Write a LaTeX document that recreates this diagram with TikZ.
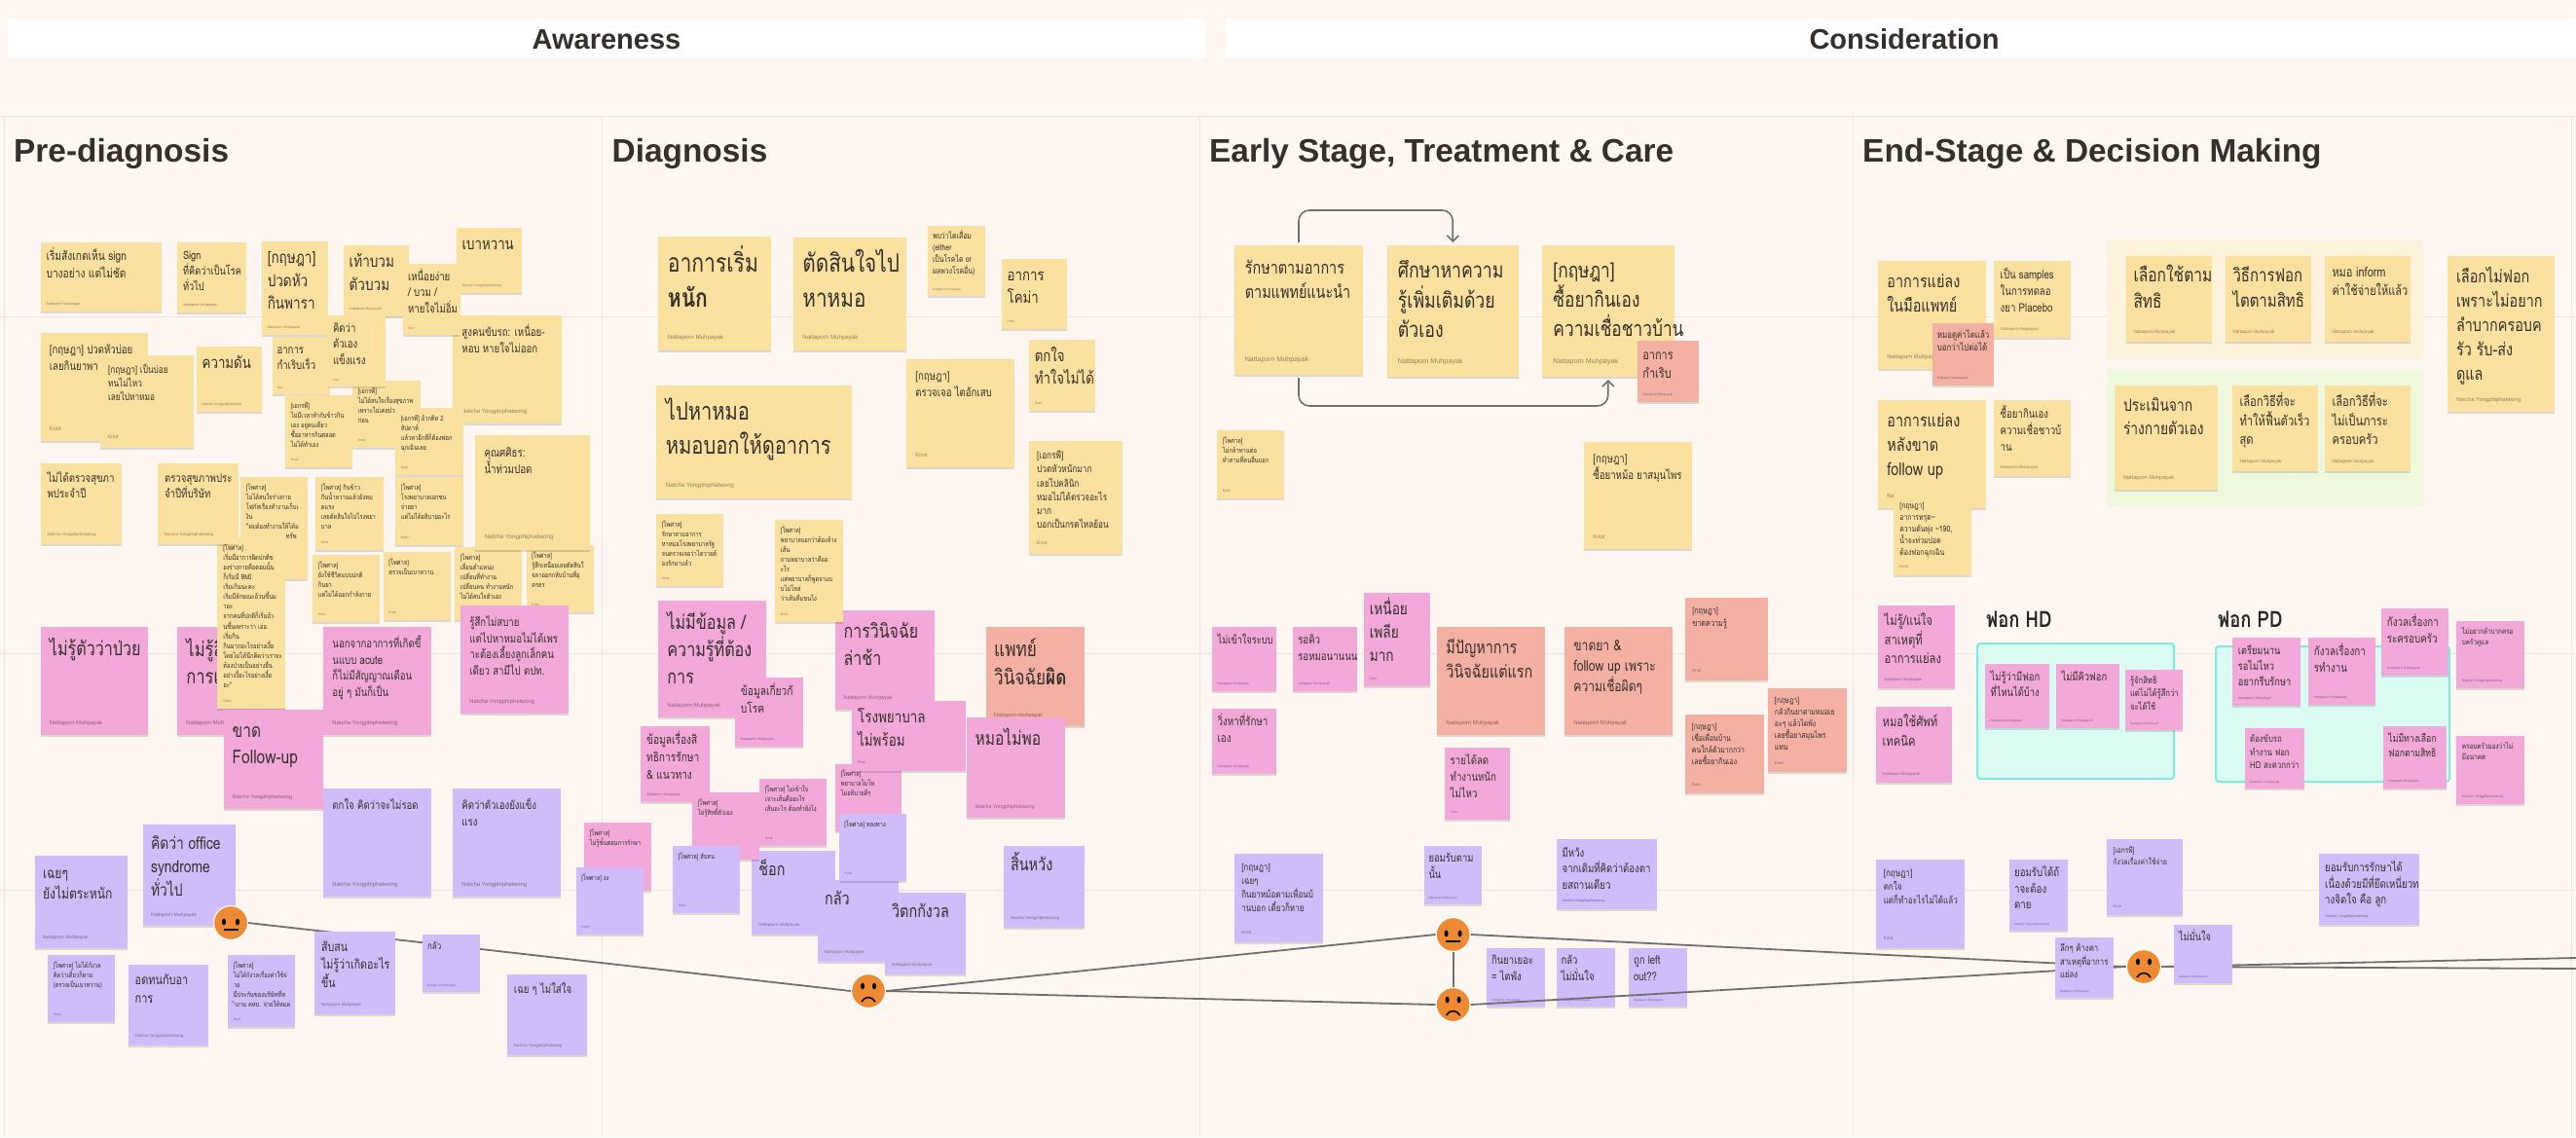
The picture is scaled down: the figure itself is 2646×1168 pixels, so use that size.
\documentclass[tikz,border=0pt]{standalone}
\usepackage{fontspec}
\setmainfont{Loma}[Script=Thai,FakeStretch=0.8]
\newfontfamily\headf{Liberation Sans}
\usetikzlibrary{shadows,arrows.meta}
\definecolor{bgc}{HTML}{FEF7F1}
\definecolor{gridc}{HTML}{E9E5DF}
\definecolor{yel}{HTML}{FAE19F}
\definecolor{pnk}{HTML}{F2A9D9}
\definecolor{pur}{HTML}{CFBCF8}
\definecolor{sal}{HTML}{F3B0A3}
\definecolor{inkc}{HTML}{35302C}
\definecolor{connc}{HTML}{707070}
\definecolor{facec}{HTML}{EE8A33}
\definecolor{tealf}{HTML}{DBFBF2}
\definecolor{teald}{HTML}{7FEBE0}
\definecolor{paley}{HTML}{FDF3DD}
\definecolor{paleg}{HTML}{EEF8DC}
\tikzset{
 note/.style={inner sep=0pt,outer sep=0pt,draw=none,drop shadow={shadow xshift=0pt,shadow yshift=-1.5pt,opacity=.13,fill=black}},
 notetext/.style={inner sep=0pt,outer sep=0pt,anchor=base west,text=inkc},
 noteauth/.style={inner sep=0pt,outer sep=0pt,anchor=base west,text=black,text opacity=.42},
 conn/.style={draw=connc,line width=1.8pt},
 bendarrow/.style={draw=connc,line width=1.6pt,rounded corners=11pt,shorten >=3pt,shorten <=3pt,-{Straight Barb[length=6pt,width=12pt]}},
 facenode/.style={circle,fill=facec,draw=white,line width=1.2pt,minimum size=35pt,inner sep=0pt},
 barnode/.style={fill=white,rounded corners=2pt,inner sep=0pt,anchor=north west},
 bartext/.style={font=\headf\bfseries\fontsize{29pt}{32pt}\selectfont,text=inkc,anchor=base,inner sep=0pt},
 coltitle/.style={font=\headf\bfseries\fontsize{33.4pt}{36pt}\selectfont,text=inkc,anchor=base west,inner sep=0pt},
 subtitle/.style={font=\bfseries\fontsize{23pt}{26pt}\selectfont,text=black!85,anchor=west,inner sep=0pt},
 groupbox/.style={inner sep=0pt,anchor=north west},
 tealbox/.style={fill=tealf,draw=teald,line width=2pt,rounded corners=3pt,inner sep=0pt,anchor=north west},
}
\newcommand{\NM}{Nattaporn Muhpayak}
\newcommand{\NY}{Natcha Yongphiphatwong}
% name x1 y1 x2 y2 colour linespacing text author
\newcommand{\st}[9]{%
 \pgfmathsetmacro{\sw}{#4-#2}\pgfmathsetmacro{\shh}{#5-#3}%
 \pgfmathsetmacro{\smin}{min(\sw,\shh)}%
 \pgfmathsetmacro{\spad}{.085*\smin}%
 \pgfmathsetmacro{\sfs}{.72*#7}%
 \pgfmathsetmacro{\afs}{.053*\smin}%
 \pgfmathsetmacro{\stw}{\sw-2*\spad}%
 \node[note,fill=#6,minimum width=\sw pt,minimum height=\shh pt,anchor=north west] (#1) at (#2,#3) {};
 \node[notetext] (#1-t) at (#2+\spad,#3+\spad+.72*#7) {\fontsize{\sfs pt}{#7 pt}\selectfont\makebox[\stw pt][l]{\parbox[t]{900pt}{\lineskiplimit=-9000pt\raggedright #8}}};
 \node[noteauth] (#1-a) at (#2+\spad,#5-.117*\smin+.35*\afs) {\headf\fontsize{\afs pt}{\afs pt}\selectfont #9};
}
% name x y neutral/sad
\newcommand{\facen}[3]{%
 \node[facenode] (#1) at (#2,#3) {};
 \fill[black] (#2-7,#3-1) ellipse (2pt and 3.4pt);
 \fill[black] (#2+7,#3-1) ellipse (2pt and 3.4pt);
 \draw[black,line width=1.5pt] (#2-7.5,#3+7) -- (#2+7.5,#3+7);
}
\newcommand{\faces}[3]{%
 \node[facenode] (#1) at (#2,#3) {};
 \fill[black] (#2-6,#3-5) ellipse (2pt and 3.4pt);
 \fill[black] (#2+6,#3-5) ellipse (2pt and 3.4pt);
 \draw[black,line width=1.6pt] (#2-7,#3+11) .. controls (#2-4,#3+5) and (#2+4,#3+5) .. (#2+7,#3+11);
}
\begin{document}
\begin{tikzpicture}[x=1pt,y=-1pt]
\useasboundingbox (0,0) rectangle (2646,1168);
\fill[bgc] (0,0) rectangle (2646,1168);
% grid
\foreach \gy in {119,325,671,914}{\draw[gridc,line width=1pt] (0,\gy) -- (2646,\gy);}
\foreach \gx in {4.5,618,1232.5,1903.5,2641}{\draw[gridc,line width=1pt] (\gx,119) -- (\gx,1168);}
% bars and titles
\node[barnode,minimum width=1230pt,minimum height=41pt] (barA) at (8,19) {};
\node[barnode,minimum width=1387pt,minimum height=41pt] (barC) at (1259,19) {};
\node[bartext] (barAt) at (623,50) {Awareness};
\node[bartext] (barCt) at (1956,50) {Consideration};
\node[coltitle] (t1) at (14,166) {Pre-diagnosis};
\node[coltitle] (t2) at (628.5,166) {Diagnosis};
\node[coltitle] (t3) at (1242,166) {Early Stage, Treatment \& Care};
\node[coltitle] (t4) at (1913,166) {End-Stage \& Decision Making};
% group boxes
\node[groupbox,fill=paley,minimum width=325pt,minimum height=123pt] (boxA) at (2164,246) {};
\node[groupbox,fill=paleg,minimum width=325pt,minimum height=142pt] (boxB) at (2164,379) {};
\node[tealbox,minimum width=202pt,minimum height=139pt] (boxHD) at (2030,660) {};
\node[tealbox,minimum width=240pt,minimum height=139pt] (boxPD) at (2275,663) {};
\node[subtitle] (hdt) at (2040,636) {ฟอก HD};
\node[subtitle] (pdt) at (2278,636) {ฟอก PD};
% --- Pre-diagnosis yellow
\st{a1}{41.5}{249}{165.7}{320}{yel}{17.7}{เริ่มสังเกตเห็น sign\\บางอย่าง แต่ไม่ชัด}{\NM}
\st{a2}{182}{249}{253}{321}{yel}{16}{Sign\\ที่คิดว่าเป็นโรค\\ทั่วไป}{\NM}
\st{a3}{269}{248}{337}{344}{yel}{23.5}{[กฤษฎา]\\ปวดหัว\\กินพารา}{\NM}
\st{a4}{353}{252}{420}{325}{yel}{23.5}{เท้าบวม\\ตัวบวม}{\NM}
\st{a5}{469}{234}{536}{301}{yel}{23}{เบาหวาน}{\NY}
\st{a12}{465}{324}{576.5}{435}{yel}{16.7}{สูงคนขับรถ: เหนื่อย-\\หอบ หายใจไม่ออก}{\NY}
\st{a6}{414}{271}{473}{344}{yel}{16.7}{เหนื่อยง่าย\\/ บวม /\\หายใจไม่อิ่ม}{Pam}
\st{a11}{279.5}{346}{339}{405}{yel}{16.7}{อาการ\\กำเริบเร็ว}{Pam}
\st{a14}{362}{391}{432}{460}{yel}{10}{[เอกรพี]\\ไม่ได้สนใจเรื่องสุขภาพ\\เพราะไม่เคยป่ว\\ก่อน}{Knot}
\st{a7}{337}{324}{396}{397}{yel}{16.7}{คิดว่า\\ตัวเอง\\แข็งแรง}{Pam}
\st{a8}{41.5}{342}{152}{453}{yel}{16.7}{[กฤษฎา] ปวดหัวบ่อย\\เลยกินยาพา}{Knot}
\st{a9}{103}{365}{198.5}{460}{yel}{14.3}{[กฤษฎา] เป็นบ่อย\\ทนไม่ไหว\\เลยไปหาหมอ}{Knot}
\st{a10}{202}{356}{269}{423}{yel}{23}{ความดัน}{\NY}
\st{a13}{293}{406}{362}{480}{yel}{10}{[เอกรพี]\\ไม่มีเวลาทำกับข้าวกิน\\เอง อยู่คนเดียว\\ซื้ออาหารกินตลอด\\ไม่ได้ทำเอง}{Knot}
\st{a15}{406}{419}{476}{488}{yel}{10}{[เอกรพี] อ้วกติด 2\\สัปดาห์\\แล้วหาอีกทีก็ต้องฟอก\\ฉุกเฉินเลย}{Knot}
\st{a16}{41.5}{476}{125}{559}{yel}{16.7}{ไม่ได้ตรวจสุขภา\\พประจำปี}{\NY}
\st{a19}{247}{490}{316}{595}{yel}{10}{[โพศาล]\\ไม่ได้สนใจร่างกาย\\โฟกัสเรื่องทำงานเก็บเ\\งิน\\"ผมต้องทำงานให้ได้ม\\\hspace{41pt}ทรัพ}{Knot}
\st{a21}{324}{490}{393.5}{565}{yel}{10}{[โพศาล] กินข้าว\\กินน้ำหวานแล้วยังหม\\ดแรง\\เลยตัดสินใจไปโรงพยา\\บาล}{Knot}
\st{a22}{406}{490}{476}{560}{yel}{10}{[โพศาล]\\โรงพยาบาลเอกชน\\จ่ายยา\\แต่ไม่ได้อธิบายอะไร}{Knot}
\st{a23}{321}{570}{390}{639}{yel}{10}{[โพศาล]\\ยังใช้ชีวิตแบบปกติ\\กินยา\\แต่ไม่ได้ออกกำลังกาย}{Knot}
\st{a24}{393.5}{567}{463}{637}{yel}{10}{[โพศาล]\\ตรวจเป็นเบาหวาน}{Knot}
\st{a25}{467}{562}{536}{637}{yel}{10}{[โพศาล]\\เลื่อนตำแหน่ง\\เปลี่ยนที่ทำงาน\\เปลี่ยนคน ทำงานหนัก\\ไม่ได้สนใจตัวเอง}{Knot}
\st{a26}{540.5}{560}{610}{629}{yel}{10}{[โพศาล]\\รู้สึกเหนื่อยเลยตัดสินใ\\จลาออกกลับบ้านที่อุ\\ดรธร}{Knot}
\st{a18}{487.5}{447}{606}{565}{yel}{17}{คุณศศิธร:\\น้ำท่วมปอด}{\NY}
% pink
\st{p1}{41.5}{644}{152}{755}{pnk}{28}{ไม่รู้ตัวว่าป่วย}{\NM}
\st{p2}{182}{644}{293}{755}{pnk}{28.7}{ไม่รู้สึ\\การเ}{\NM}
\st{a20}{223.4}{552}{293}{728}{yel}{10.1}{[โพศาล] .\\เริ่มมีอาการผิดปกติข\\องร่างกายคือตอนนั้น\\ก็เริ่มมี BMI\\เริ่มเกินนะคะ\\เริ่มมีลักษณะอ้วนขึ้นม\\าอะ\\จากคนที่ปกติก็เริ่มอ้ว\\นขึ้นเพราะว่า เอ่อ\\เริ่มกิน\\กินมากอะไรอย่างเงี้ย\\โดยไม่ได้นึกคิดว่าเราจะ\\ต้องป่วยเป็นอย่างอื่น\\อย่างงี้อะไรอย่างเงี้ย\\อะ"}{Knot}
\st{a17}{162}{476}{245}{559}{yel}{16.7}{ตรวจสุขภาพประ\\จำปีที่บริษัท}{\NY}
\st{p4}{332}{644}{443}{755}{pnk}{16.7}{นอกจากอาการที่เกิดขึ้\\นแบบ acute\\ก็ไม่มีสัญญาณเตือน\\อยู่ ๆ มันก็เป็น}{\NY}
\st{p3}{230}{729}{332}{831}{pnk}{27}{ขาด\\Follow-up}{\NY}
\st{p5}{473}{622}{584}{733}{pnk}{16.7}{รู้สึกไม่สบาย\\แต่ไปหาหมอไม่ได้เพร\\าะต้องเลี้ยงลูกเล็กคน\\เดียว สามีไป ตปท.}{\NY}
% purple pre
\st{v1}{332}{810}{443}{921}{pur}{16.7}{ตกใจ คิดว่าจะไม่รอด}{\NY}
\st{v2}{465}{810}{576}{921}{pur}{16.7}{คิดว่าตัวเองยังแข็ง\\แรง}{\NY}
\st{v3}{147}{847}{242.4}{951}{pur}{24}{คิดว่า office\\syndrome\\ทั่วไป}{\NM}
\st{v4}{36}{879}{131}{974}{pur}{21}{เฉยๆ\\ยังไม่ตระหนัก}{\NM}
\st{v5}{49}{981}{118}{1050}{pur}{10}{[โพศาล] ไม่ได้กังวล\\คิดว่าเดี๋ยวก็หาย\\(ตรวจเป็นเบาหวาน)}{Knot}
\st{v6}{131.7}{991}{214}{1074}{pur}{19}{อดทนกับอา\\การ}{\NY}
\st{v7}{234}{981}{303}{1055}{pur}{10}{[โพศาล]\\ไม่ได้กังวลเรื่องค่าใช้จ่\\าย\\มีประกันของบริษัทที่ท\\ำงาน คหบ. จ่ายให้หมด}{Knot}
\st{v10}{521}{1001}{603}{1084}{pur}{16.7}{เฉย ๆ ไม่ใส่ใจ}{\NY}
% --- Diagnosis
\st{y1}{676}{243}{792}{360}{yel}{36.7}{อาการเริ่ม\\\textbf{หนัก}}{\NM}
\st{y2}{814.5}{244}{931}{360}{yel}{36}{ตัดสินใจไป\\หาหมอ}{\NM}
\st{y3}{953}{232}{1012}{304}{yel}{12}{พบว่าไตเสื่อม\\(either\\เป็นโรคไต or\\ผลพวงโรคอื่น)}{\NM}
\st{y4}{1029}{266}{1096}{338}{yel}{23}{อาการ\\โคม่า}{Pam}
\st{y5}{674}{396}{875.4}{512}{yel}{35}{ไปหาหมอ\\หมอบอกให้ดูอาการ}{\NY}
\st{y6}{931}{369}{1041.5}{480}{yel}{16.7}{[กฤษฎา]\\ตรวจเจอ ไตอักเสบ}{Knot}
\st{y7}{1057}{349}{1125}{422}{yel}{23}{ตกใจ\\ทำใจไม่ได้}{Pam}
\st{y8}{1057}{453}{1153}{569}{yel}{14.3}{[เอกรพี]\\ปวดหัวหนักมาก\\เลยไปคลินิก\\หมอไม่ได้ตรวจอะไร\\มาก\\บอกเป็นกรดไหลย้อน}{Knot}
\st{y9}{674}{528}{743}{602}{yel}{10}{[โพศาล]\\รักษาตามอาการ\\หาหมอโรงพยาบาลรัฐ\\จนตรวจเจอว่าไตวายต้\\องรักษาแล้ว}{Knot}
\st{p6}{676}{617}{787}{737}{pnk}{28}{ไม่มีข้อมูล /\\ความรู้ที่ต้อง\\การ}{\NM}
\st{p7}{755}{696}{825}{767}{pnk}{17.7}{ข้อมูลเกี่ยวกั\\บโรค}{\NM}
\st{p8}{858}{627}{960}{729}{pnk}{27.7}{การวินิจฉัย\\ล่าช้า}{\NM}
\st{y10}{796}{534}{866}{639}{yel}{10}{[โพศาล]\\พยาบาลบอกว่าต้องล้าง\\เส้น\\ถามพยาบาลว่าคืออ\\ะไร\\แต่พยาบาลก็พูดจาแบ\\บไม่โหล่\\ว่าเส้นที่แขนไง}{Knot}
\st{r1}{1012.6}{644}{1114}{746}{sal}{29.7}{แพทย์\\วินิจฉัย\textbf{ผิด}}{\NM}
\st{p14}{858}{785}{926}{854}{pnk}{10}{[โพศาล]\\พยาบาลโมโห\\ไม่อธิบายดีๆ}{Knot}
\st{p9}{875}{720}{992.4}{792}{pnk}{23.3}{โรงพยาบาล\\ไม่พร้อม}{Pam}
\st{p10}{993}{737}{1094.4}{840}{pnk}{27}{หมอไม่พอ}{\NY}
\st{p11}{658}{746}{729}{824}{pnk}{17.7}{ข้อมูลเรื่องสิ\\ทธิการรักษา\\\& แนวทาง}{\NM}
\st{p15}{600}{845}{669}{915}{pnk}{10}{[โพศาล]\\ไม่รู้ขั้นตอนการรักษา}{Knot}
\st{v11}{591.5}{891}{661}{960}{pur}{10}{[โพศาล] งง}{Knot}
\st{v13}{772}{874}{858}{960}{pur}{25}{ช็อก}{\NM}
\st{p12}{711}{814}{780}{883}{pnk}{10}{[โพศาล]\\ไม่รู้สิทธิ์ตัวเอง}{Knot}
\st{p13}{780}{800}{849}{869}{pnk}{10}{[โพศาล] ไม่เข้าใจ\\เจาะเส้นคืออะไร\\เส้นอะไร ต้องทำยังไง}{Knot}
\st{v12}{691}{869}{760}{938}{pur}{10}{[โพศาล] สับสน}{Knot}
\st{v14}{840}{904}{923}{988}{pur}{25}{กลัว}{\NM}
\st{v15}{861.5}{836}{931}{905}{pur}{10}{[โพศาล] หลงทาง}{Knot}
\st{v16}{909}{917}{992.4}{1001}{pur}{25}{วิตกกังวล}{\NM}
\st{v17}{1031}{869}{1114}{953}{pur}{25}{สิ้นหวัง}{\NY}
% --- Early stage
\st{e1}{1267.5}{252}{1400.4}{385}{yel}{25}{รักษาตามอาการ\\ตามแพทย์แนะนำ}{\NM}
\st{e2}{1424.5}{252}{1560}{387}{yel}{30.7}{ศึกษาหาความ\\รู้เพิ่มเติมด้วย\\ตัวเอง}{\NM}
\st{e3}{1584}{252}{1719.5}{387}{yel}{30}{[กฤษฎา]\\ซื้อยากินเอง\\ความเชื่อชาวบ้าน}{\NM}
\st{r2}{1682}{350}{1745}{413}{sal}{19}{อาการ\\กำเริบ}{\NM}
\st{e4}{1250}{442}{1319}{512}{yel}{10}{[โพศาล]\\ไม่กล้าทานต่อ\\ทำตามที่คนอื่นบอก}{Knot}
\st{e5}{1627}{454}{1738}{564}{yel}{16.7}{[กฤษฎา]\\ซื้อยาหม้อ ยาสมุนไพร}{Knot}
\draw[bendarrow] (e1.north) -- ([yshift=36pt]e1.north) -| (e2.north);
\draw[bendarrow] (e1.south) -- ([yshift=-32pt]e1.south) -| (e3.south);
\st{p16}{1245}{644}{1311}{710}{pnk}{16}{ไม่เข้าใจระบบ}{\NM}
\st{p17}{1327.7}{644}{1394}{710}{pnk}{16.7}{รอคิว\\รอหมอนานนน}{\NM}
\st{p18}{1401}{609}{1469}{705}{pnk}{23.7}{เหนื่อย\\เพลีย\\มาก}{Pam}
\st{r3}{1476}{644}{1587}{755}{sal}{25}{มีปัญหาการ\\วินิจฉัยแต่แรก}{\NM}
\st{r4}{1607}{644}{1718}{755}{sal}{21}{ขาดยา \&\\follow up เพราะ\\ความเชื่อผิดๆ}{\NM}
\st{r5}{1731}{614}{1816}{699}{sal}{12.7}{[กฤษฎา]\\ขาดความรู้}{Knot}
\st{r6}{1731}{734}{1812}{815}{sal}{12}{[กฤษฎา]\\เชื่อเพื่อนบ้าน\\คนใกล้ตัวมากกว่า\\เลยซื้อยากินเอง}{Knot}
\st{r7}{1816}{707}{1897}{793}{sal}{12}{[กฤษฎา]\\กลัวกินยาตามหมอเย\\อะๆ แล้วไตพัง\\เลยซื้อยาสมุนไพร\\แทน}{Knot}
\st{p19}{1245}{728}{1311}{795}{pnk}{17}{วิ่งหาที่รักษา\\เอง}{\NM}
\st{p20}{1484}{768}{1551}{842}{pnk}{16.7}{รายได้ลด\\ทำงานหนัก\\ไม่ไหว}{Pam}
\st{v18}{1267.5}{877}{1359}{968}{pur}{14}{[กฤษฎา]\\เฉยๆ\\กินยาหม้อตามเพื่อนบ้\\านบอก เดี๋ยวก็หาย}{Knot}
\st{v19}{1462.5}{869}{1522}{929}{pur}{16.3}{ยอมรับตาม\\นั้น}{\NM}
\st{v20}{1598.5}{862}{1702}{934}{pur}{16.7}{มีหวัง\\จากเดิมที่คิดว่าต้องตา\\ยสถานเดียว}{\NY}
\st{v21}{1527}{974}{1587}{1034}{pur}{16.5}{กินยาเยอะ\\= ไตพัง}{\NM}
\st{v22}{1598.5}{974}{1659}{1034}{pur}{16.5}{กลัว\\ไม่มั่นใจ}{\NM}
\st{v23}{1673}{974}{1733}{1034}{pur}{16.5}{ถูก left\\out??}{\NM}
% --- End stage
\st{f1}{1929}{268}{2040}{379}{yel}{25}{อาการแย่ลง\\ในมือแพทย์}{\NM}
\st{r8}{1984.5}{332}{2047.6}{396}{sal}{13.7}{หมอดูค่าไตแล้ว\\บอกว่าไปต่อได้}{\NM}
\st{f2}{2048}{268}{2127}{347}{yel}{16.7}{เป็น samples\\ในการทดลอ\\งยา Placebo}{\NM}
\st{f3}{1929}{411}{2040}{522}{yel}{25}{อาการแย่ลง\\หลังขาด\\follow up}{\NM}
\st{f4}{2048}{411}{2127}{489}{yel}{16.7}{ซื้อยากินเอง\\ความเชื่อชาวบ้\\าน}{\NM}
\st{f5}{1944.5}{507}{2025}{591}{yel}{12}{[กฤษฎา]\\อาการทรุด\textasciitilde\\ความดันพุ่ง \textasciitilde190,\\น้ำจะท่วมปอด\\ต้องฟอกฉุกเฉิน}{Knot}
\st{g1}{2184}{263}{2272}{351}{yel}{27}{เลือกใช้ตาม\\สิทธิ}{\NM}
\st{g2}{2286}{263}{2374}{351}{yel}{26}{วิธีการฟอก\\ไตตามสิทธิ}{\NM}
\st{g3}{2388}{263}{2476}{351}{yel}{19}{หมอ inform\\ค่าใช้จ่ายให้แล้ว}{\NM}
\st{g4}{2513.6}{263}{2624}{423}{yel}{25}{เลือกไม่ฟอก\\เพราะไม่อยาก\\ลำบากครอบค\\รัว รับ-ส่ง\\ดูแล}{\NY}
\st{h1}{2172}{396}{2278}{503}{yel}{24}{ประเมินจาก\\ร่างกายตัวเอง}{\NM}
\st{h2}{2293}{396}{2381}{484}{yel}{19.5}{เลือกวิธีที่จะ\\ทำให้ฟื้นตัวเร็ว\\สุด}{\NM}
\st{h3}{2388}{396}{2476}{484}{yel}{19.5}{เลือกวิธีที่จะ\\ไม่เป็นภาระ\\ครอบครัว}{\NM}
\st{i1}{1929}{622}{2007.5}{707}{pnk}{19.5}{ไม่รู้/แน่ใจ\\สาเหตุที่\\อาการแย่ลง}{\NM}
\st{i2}{1927}{726}{2005}{804}{pnk}{19.5}{หมอใช้ศัพท์\\เทคนิค}{\NM}
\st{j1}{2039}{682}{2105}{748}{pnk}{16.3}{ไม่รู้ว่ามีฟอก\\ที่ไหนได้บ้าง}{\NM}
\st{j2}{2112}{682}{2177}{748}{pnk}{16.3}{ไม่มีคิวฟอก}{\NM}
\st{j3}{2183}{688}{2242}{750}{pnk}{13.3}{รู้จักสิทธิ\\แต่ไม่ได้รู้สึกว่า\\จะได้ใช้}{\NM}
\st{k1}{2293}{655}{2363}{725}{pnk}{16}{เตรียมนาน\\รอไม่ไหว\\อยากรีบรักษา}{\NM}
\st{k2}{2371}{655}{2440}{724}{pnk}{17}{กังวลเรื่องกา\\รทำงาน}{\NM}
\st{k3}{2446}{625}{2515}{694}{pnk}{17}{กังวลเรื่องกา\\ระครอบครัว}{\NM}
\st{k4}{2523}{638}{2593}{707}{pnk}{11}{ไม่อยากลำบากครอ\\บครัวดูแล}{\NY}
\st{k5}{2306}{748}{2367}{810}{pnk}{13.5}{ต้องขับรถ\\ทำงาน ฟอก\\HD สะดวกกว่า}{\NM}
\st{k6}{2448}{746}{2513}{810}{pnk}{15}{ไม่มีทางเลือก\\ฟอกตามสิทธิ}{\NM}
\st{k7}{2523}{756}{2593}{826}{pnk}{11}{ครอบครัวมองว่าไม่\\มีอนาคต}{\NY}
\st{m1}{1927}{883}{2018}{974}{pur}{14}{[กฤษฎา]\\ตกใจ\\แต่ก็ทำอะไรไม่ได้แล้ว}{Knot}
\st{m2}{2064}{883}{2124}{956}{pur}{16.8}{ยอมรับได้ถ้\\าจะต้อง\\ตาย}{\NY}
\st{m3}{2164}{862}{2242}{940}{pur}{11.5}{[เอกรพี]\\กังวลเรื่องค่าใช้จ่าย}{Knot}
\st{m4}{2382}{877}{2485}{950}{pur}{16.8}{ยอมรับการรักษาได้\\เนื่องด้วยมีที่ยึดเหนี่ยวท\\างจิตใจ คือ ลูก}{\NY}
% faces
\facen{f1}{237}{948}
\faces{f2}{892}{1018}
\facen{f3}{1492.6}{960}
\faces{f4}{1492.6}{1032}
\faces{f5}{2202}{993}
\coordinate (endA) at (2646,984);
\coordinate (endB) at (2646,995);
\draw[conn] (f1.east) -- (f2.west);
\draw[conn] (f2.east) -- (f3.west);
\draw[conn] (f2.east) -- (f4.west);
\draw[conn] (f3.south) -- (f4.north);
\draw[conn] (f3.east) -- (f5.west);
\draw[conn] (f4.east) -- (f5.west);
\draw[conn] (f5.east) -- (endA);
\draw[conn] (f5.east) -- (endB);
% notes over connectors
\st{v8}{323}{957}{406}{1042}{pur}{18.5}{สับสน\\ไม่รู้ว่าเกิดอะไร\\ขึ้น}{\NM}
\st{v9}{434}{960}{493}{1019}{pur}{14}{กลัว}{\NM}
\st{m5}{2111}{963}{2171}{1025}{pur}{13.5}{ลึกๆ ค้างคา\\สาเหตุที่อาการ\\แย่ลง}{\NM}
\st{m6}{2233}{950}{2293}{1010}{pur}{16}{ไม่มั่นใจ}{\NM}
\end{tikzpicture}
\end{document}
